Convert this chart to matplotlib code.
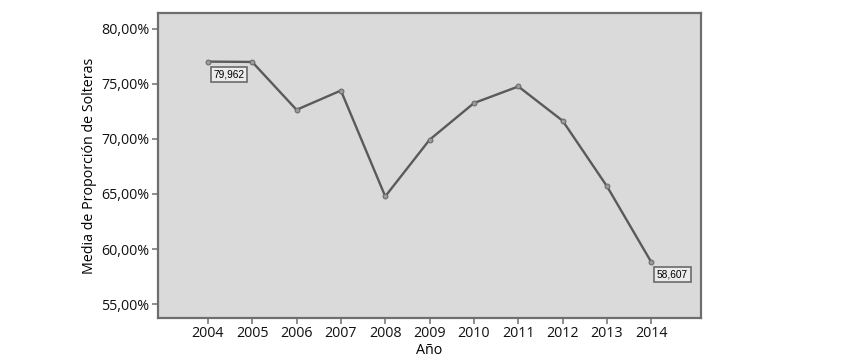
import matplotlib.pyplot as plt
from matplotlib.ticker import FuncFormatter

# data
years = [2004, 2005, 2006, 2007, 2008, 2009, 2010, 2011, 2012, 2013, 2014]
media = [77.03, 77.0, 72.65, 74.4, 64.78, 69.93, 73.26, 74.77, 71.65, 65.69, 58.79]
yticks = [55, 60, 65, 70, 75, 80]
# SPSS point labels (text as shown)
labels = {2004: "79,962", 2014: "58,607"}

plt.rcParams['font.family'] = ['Open Sans', 'DejaVu Sans']

fig = plt.figure(figsize=(8.58, 3.61), dpi=100)
ax = fig.add_axes([0.1838, 0.1191, 0.6333, 0.845])
ax.set_facecolor("#dadada")

ax.plot(years, media, color="#5a5a5a", lw=1.7, marker="o", ms=3.5,
        mfc="#9a9a9a", mec="#666666", mew=0.7, zorder=3)

for yr, txt in labels.items():
    v = media[years.index(yr)]
    ax.annotate(txt, (yr, v), xytext=(4, -9), textcoords="offset points",
                ha="left", va="center", fontsize=7.3, family="Liberation Sans",
                bbox=dict(boxstyle="square,pad=0.25", fc="#ececec", ec="#6a6a6a", lw=1.2),
                zorder=4)

ax.set_xlim(2002.87, 2015.12)
ax.set_ylim(53.73, 81.45)
ax.set_xticks(years)
ax.set_yticks(yticks)
ax.yaxis.set_major_formatter(FuncFormatter(lambda v, p: f"{v:.2f}".replace(".", ",") + "%"))

for s in ax.spines.values():
    s.set_color("#6e6e6e")
    s.set_linewidth(1.6)

ax.tick_params(axis="both", direction="out", length=4, width=1.2, color="#7a7a7a",
               labelsize=10.3, labelcolor="#111111", pad=2)

ax.set_xlabel("Año", fontsize=10.3, labelpad=1)
ax.set_ylabel("Media de Proporción de Solteras", fontsize=10.3, labelpad=3)

fig.savefig("out.png", dpi=100)
